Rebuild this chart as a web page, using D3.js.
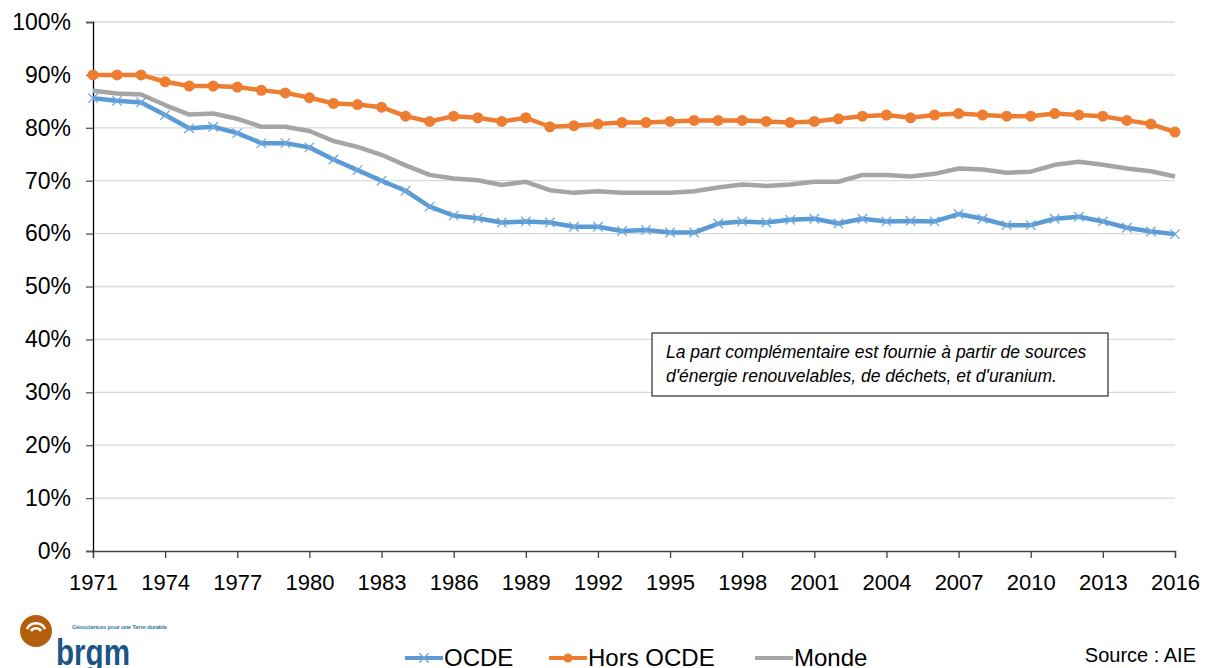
<!DOCTYPE html>
<html>
<head>
<meta charset="utf-8">
<script src="https://cdn.jsdelivr.net/npm/d3@7"></script>
<style>
  body { margin: 0; background: #fff; }
  svg text { font-family: "Liberation Sans", Arial, sans-serif; }
</style>
</head>
<body>
<div id="svgBody"></div>
<script>
// values, in %
var years = d3.range(1971, 2017);
var ocde = [85.6, 85.1, 84.8, 82.4, 79.9, 80.2, 79.0, 77.1, 77.1, 76.3, 74.0, 72.0, 70.0, 68.1, 65.1, 63.4,
            62.9, 62.1, 62.3, 62.1, 61.3, 61.3, 60.5, 60.7, 60.2, 60.2, 61.9, 62.3, 62.1, 62.6, 62.8,
            61.9, 62.8, 62.3, 62.4, 62.3, 63.7, 62.8, 61.6, 61.6, 62.8, 63.2, 62.3, 61.1, 60.4, 59.9];
var horsOcde = [90.0, 90.0, 90.0, 88.7, 87.9, 87.9, 87.7, 87.1, 86.6, 85.7, 84.6, 84.4, 83.9, 82.2, 81.2, 82.2,
                81.9, 81.2, 81.9, 80.2, 80.4, 80.7, 81.0, 81.0, 81.2, 81.4, 81.4, 81.4, 81.2, 81.0, 81.2,
                81.7, 82.2, 82.4, 81.9, 82.4, 82.7, 82.4, 82.2, 82.2, 82.7, 82.4, 82.2, 81.4, 80.7, 79.2];
var monde = [87.0, 86.5, 86.3, 84.3, 82.5, 82.7, 81.7, 80.2, 80.2, 79.4, 77.5, 76.4, 74.9, 72.9, 71.1, 70.4,
             70.1, 69.2, 69.8, 68.2, 67.7, 68.0, 67.7, 67.7, 67.7, 68.0, 68.7, 69.3, 69.0, 69.3, 69.8,
             69.8, 71.1, 71.1, 70.8, 71.3, 72.3, 72.1, 71.5, 71.7, 73.0, 73.6, 73.0, 72.3, 71.8, 70.8];
var yTicks = [0, 10, 20, 30, 40, 50, 60, 70, 80, 90, 100];
var xTicks = d3.range(1971, 2017, 3);
var seriesNames = ["OCDE", "Hors OCDE", "Monde"];
var colors = ["#5B9BD5", "#ED7D31", "#A5A5A5"];
var note = ["La part complémentaire est fournie à partir de sources",
            "d'énergie renouvelables, de déchets, et d'uranium."];

var width = 1206, height = 668;
var margin = {top: 22, right: 31, bottom: 117, left: 93};
var w = width - margin.left - margin.right;
var h = height - margin.top - margin.bottom;

var svg = d3.select("#svgBody")
    .append("svg")
    .attr("width", width)
    .attr("height", height);

var g = svg.append("g")
    .attr("transform", "translate(" + margin.left + "," + margin.top + ")");

var x = d3.scaleLinear().domain([1971, 2016]).range([0, w]);
var y = d3.scaleLinear().domain([0, 100]).range([h, 0]);

// gridlines
g.selectAll(".grid")
    .data(yTicks.slice(1))
    .enter().append("line")
    .attr("x1", 0).attr("x2", w)
    .attr("y1", function(d) { return y(d); })
    .attr("y2", function(d) { return y(d); })
    .attr("stroke", "#D9D9D9")
    .attr("stroke-width", 1.3);

// y axis
var yAxis = g.append("g")
    .call(d3.axisLeft(y).tickValues(yTicks).tickSize(7).tickPadding(15)
        .tickFormat(function(d) { return d + "%"; }));
yAxis.select(".domain").attr("stroke", "#000").attr("stroke-width", 1.3);
yAxis.selectAll(".tick line").attr("stroke", "#595959").attr("stroke-width", 1.3);
yAxis.selectAll("text").attr("font-size", "23px").attr("fill", "#000")
    .attr("font-family", "Liberation Sans, Arial, sans-serif");

// x axis
var xAxis = g.append("g")
    .attr("transform", "translate(0," + h + ")")
    .call(d3.axisBottom(x).tickValues(xTicks).tickSize(7).tickPadding(16)
        .tickFormat(d3.format("d")));
xAxis.select(".domain").attr("stroke", "#404040").attr("stroke-width", 1.3);
xAxis.selectAll(".tick line").attr("stroke", "#404040").attr("stroke-width", 1.3);
xAxis.selectAll("text").attr("font-size", "22px").attr("fill", "#000")
    .attr("font-family", "Liberation Sans, Arial, sans-serif");

// lines
var line = d3.line()
    .x(function(d, i) { return x(years[i]); })
    .y(function(d) { return y(d); });

var allSeries = [ocde, horsOcde, monde];
// grey first, then blue, orange on top
[2, 0, 1].forEach(function(k) {
    g.append("path")
        .datum(allSeries[k])
        .attr("fill", "none")
        .attr("stroke", colors[k])
        .attr("stroke-width", 4.5)
        .attr("stroke-linejoin", "round")
        .attr("d", line);
});

// OCDE x markers
var cross = d3.symbol().type(d3.symbolX).size(60);
g.selectAll(".mOcde")
    .data(ocde)
    .enter().append("path")
    .attr("d", cross)
    .attr("transform", function(d, i) { return "translate(" + x(years[i]) + "," + y(d) + ")"; })
    .attr("fill", "none")
    .attr("stroke", "#6FA8DC")
    .attr("stroke-width", 1.3);

// Hors OCDE circles
g.selectAll(".mHors")
    .data(horsOcde)
    .enter().append("circle")
    .attr("cx", function(d, i) { return x(years[i]); })
    .attr("cy", function(d) { return y(d); })
    .attr("r", 5.5)
    .attr("fill", colors[1]);

// note box
var box = svg.append("g").attr("transform", "translate(652,333)");
box.append("rect")
    .attr("width", 456).attr("height", 63)
    .attr("fill", "#fff").attr("stroke", "#000").attr("stroke-width", 1);
box.selectAll("text")
    .data(note)
    .enter().append("text")
    .attr("x", 14)
    .attr("y", function(d, i) { return 25 + i * 24; })
    .attr("font-family", "Lato, 'Open Sans', sans-serif")
    .attr("font-style", "italic")
    .attr("font-size", "17.5px")
    .attr("fill", "#000")
    .text(function(d) { return d; });

// legend
var legX = [405, 549, 755];
var legend = svg.selectAll(".legend")
    .data(seriesNames)
    .enter().append("g")
    .attr("transform", function(d, i) { return "translate(" + legX[i] + ",658)"; });
legend.append("line")
    .attr("x1", 0).attr("x2", 38)
    .attr("stroke", function(d, i) { return colors[i]; })
    .attr("stroke-width", 4);
legend.filter(function(d, i) { return i === 0; })
    .append("path")
    .attr("d", cross)
    .attr("transform", "translate(19,0)")
    .attr("fill", "none").attr("stroke", "#6FA8DC").attr("stroke-width", 1.3);
legend.filter(function(d, i) { return i === 1; })
    .append("circle")
    .attr("cx", 19).attr("r", 4.5).attr("fill", colors[1]);
legend.append("text")
    .attr("x", 39)
    .attr("y", 8)
    .attr("font-size", "24px")
    .attr("fill", "#000")
    .text(function(d) { return d; });

svg.append("text")
    .attr("x", 1196).attr("y", 662)
    .attr("text-anchor", "end")
    .attr("font-size", "20px")
    .attr("fill", "#000")
    .text("Source : AIE");

// brgm logo
var logo = svg.append("g");
logo.append("circle").attr("cx", 36).attr("cy", 631).attr("r", 16).attr("fill", "#B35F0B");
logo.append("path")
    .attr("d", "M27,629 A10,10 0 0 1 45,629")
    .attr("fill", "none").attr("stroke", "#fff").attr("stroke-width", 2.5);
logo.append("path")
    .attr("d", "M31,631 A6,6 0 0 1 41,631")
    .attr("fill", "none").attr("stroke", "#fff").attr("stroke-width", 2.5);
logo.append("text")
    .attr("x", 56).attr("y", 665)
    .attr("font-size", "36px")
    .attr("font-weight", "bold")
    .attr("fill", "#1B5486")
    .attr("textLength", 74)
    .attr("lengthAdjust", "spacingAndGlyphs")
    .text("brgm");
logo.append("text")
    .attr("x", 72).attr("y", 629)
    .attr("font-size", "6px")
    .attr("font-weight", "bold")
    .attr("fill", "#3A7CA5")
    .attr("textLength", 95)
    .text("Géosciences pour une Terre durable");
</script>
</body>
</html>
